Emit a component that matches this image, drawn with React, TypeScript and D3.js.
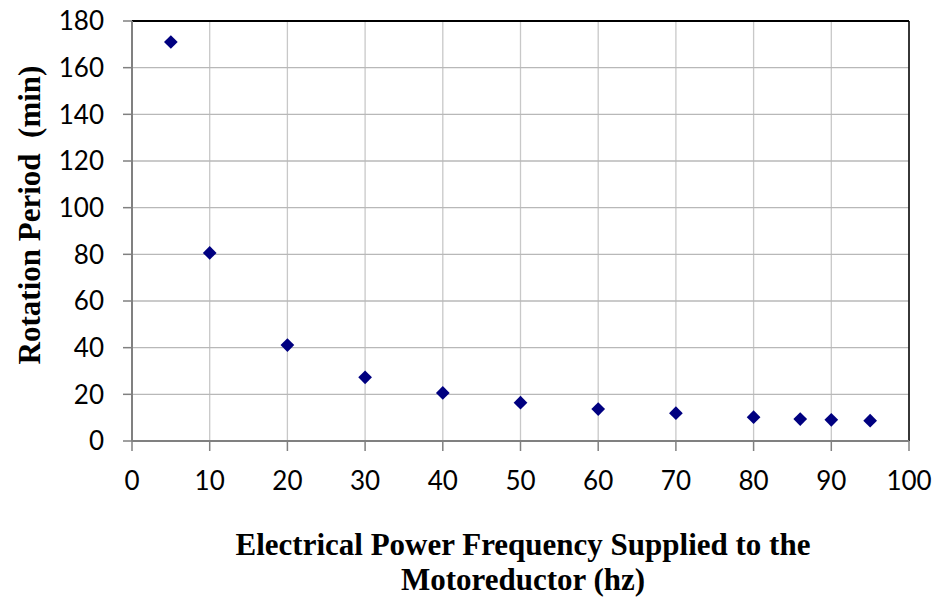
import React from "react";
import * as d3 from "d3";

const frequency = [5, 10, 20, 30, 40, 50, 60, 70, 80, 86, 90, 95];
const period = [171, 80.6, 41.1, 27.3, 20.6, 16.4, 13.7, 11.9, 10.2, 9.4, 9.1, 8.7];
const xTicks = [0, 10, 20, 30, 40, 50, 60, 70, 80, 90, 100];
const yTicks = [0, 20, 40, 60, 80, 100, 120, 140, 160, 180];
const xTitle = ["Electrical Power Frequency Supplied to the", "Motoreductor (hz)"];
const yTitle = "Rotation Period\u00a0 (min)";

export default function App() {
  const W = 936, H = 598;
  const left = 132, right = 909, top = 21, bottom = 441;
  const x = d3.scaleLinear().domain([0, 100]).range([left, right]);
  const y = d3.scaleLinear().domain([0, 180]).range([bottom, top]);
  const sym = d3.symbol().type(d3.symbolDiamond2).size(120)();
  const tickFont = "Lato, 'Open Sans', sans-serif";
  const titleFont = "'Liberation Serif', 'Times New Roman', serif";
  return (
    <svg width={W} height={H} style={{ position: "absolute", left: 0, top: 0, background: "#fff" }}>
      {xTicks.map((t) => (
        <line key={"gx" + t} x1={x(t)} x2={x(t)} y1={top} y2={bottom} stroke="#c8c8c8" strokeWidth={1.3} />
      ))}
      {yTicks.map((t) => (
        <line key={"gy" + t} x1={left} x2={right} y1={y(t)} y2={y(t)} stroke="#b8b8b8" strokeWidth={1.3} />
      ))}
      <line x1={left} x2={right} y1={top} y2={top} stroke="#000" strokeWidth={2} />
      <line x1={right} x2={right} y1={top} y2={bottom} stroke="#000" strokeWidth={1.5} />
      <line x1={left} x2={right} y1={bottom} y2={bottom} stroke="#808080" strokeWidth={2} />
      <line x1={left} x2={left} y1={top} y2={bottom} stroke="#808080" strokeWidth={2} />
      {yTicks.map((t) => (
        <g key={"ty" + t}>
          <line x1={left - 9} x2={left} y1={y(t)} y2={y(t)} stroke="#808080" strokeWidth={1.5} />
          <text x={104} y={y(t)} dy="0.36em" textAnchor="end" fontFamily={tickFont} fontSize={26} fill="#000">
            {t}
          </text>
        </g>
      ))}
      {xTicks.map((t) => (
        <g key={"tx" + t}>
          <line x1={x(t)} x2={x(t)} y1={bottom} y2={bottom + 10} stroke="#808080" strokeWidth={1.5} />
          <text x={x(t)} y={490} textAnchor="middle" fontFamily={tickFont} fontSize={26} fill="#000">
            {t}
          </text>
        </g>
      ))}
      {frequency.map((f, i) => (
        <path key={"p" + i} d={sym} transform={`translate(${x(f)},${y(period[i])})`} fill="#000080" />
      ))}
      <text
        transform={`translate(40,215) rotate(-90)`}
        textAnchor="middle"
        fontFamily={titleFont}
        fontWeight="bold"
        fontSize={31}
        fill="#000"
      >
        {yTitle}
      </text>
      {xTitle.map((s, i) => (
        <text key={"xt" + i} x={523} y={555 + i * 35} textAnchor="middle" fontFamily={titleFont} fontWeight="bold" fontSize={31} fill="#000">
          {s}
        </text>
      ))}
    </svg>
  );
}
